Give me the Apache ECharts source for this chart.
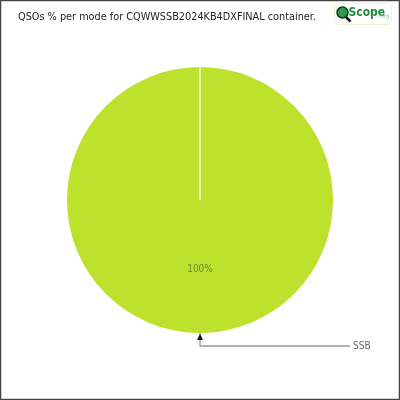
<!DOCTYPE html>
<html><head><meta charset="utf-8">
<script src="https://cdn.jsdelivr.net/npm/echarts@6/dist/echarts.min.js"></script>
<style>html,body{margin:0;padding:0;background:#fff}#c{width:400px;height:400px}</style>
</head><body><div id="c"></div>
<script>
const titleText = "QSOs % per mode for CQWWSSB2024KB4DXFINAL container.";
const modes = ["SSB"];
const percents = [100];

const CX = 200, CY = 200, R = 133;
const FONT = '"DejaVu Sans Condensed", Roboto, sans-serif';
const chart = echarts.init(document.getElementById('c'), null, {renderer: 'canvas'});
chart.setOption({
  animation: false,
  backgroundColor: '#fff',
  title: {
    text: titleText, left: 13, top: 7,
    textStyle: {fontFamily: FONT, fontSize: 10.8, fontWeight: 'normal', color: '#222'}
  },
  graphic: [
    {type: 'rect', shape: {x: 0.5, y: 0.5, width: 399, height: 399},
     style: {fill: 'none', stroke: '#444', lineWidth: 1.5}, silent: true, z: 100},
    {type: 'group', left: 334, top: 3, children: [
      {type: 'rect', shape: {x: 0, y: 0, width: 57, height: 21, r: 3},
       style: {fill: '#fff', stroke: '#eef3d8', lineWidth: 1}},
      {type: 'line', shape: {x1: 11, y1: 13, x2: 16, y2: 18}, style: {stroke: '#111', lineWidth: 2.5}},
      {type: 'circle', shape: {cx: 8, cy: 9, r: 5.5}, style: {fill: '#2e9a4a', stroke: '#0d3a1a', lineWidth: 1.5}},
      {type: 'text', style: {x: 14, y: 3, text: 'Scope', fontFamily: FONT, fontWeight: 'bold', fontSize: 12, fill: '#1f8a3a'}},
      {type: 'text', style: {x: 44, y: 10, text: '.org', fontFamily: FONT, fontSize: 6, fill: '#8fc88f'}}
    ]},
    {type: 'line', shape: {x1: CX, y1: CY, x2: CX, y2: CY - R}, style: {stroke: '#f4f8e0', lineWidth: 1.5}, z: 40},
    {type: 'polygon', shape: {points: [[CX, CY + R + 1], [CX - 3, CY + R + 7], [CX + 3, CY + R + 7]]},
     style: {fill: '#111'}, z: 50}
  ],
  series: [{
    type: 'pie',
    center: [CX, CY],
    radius: [0, R],
    startAngle: 90.02,
    clockwise: true,
    itemStyle: {color: '#bde22e', borderWidth: 0},
    label: {
      show: true, position: 'outside', formatter: '{b}',
      fontFamily: FONT, fontSize: 10, color: '#666', distanceToLabelLine: 3
    },
    labelLine: {show: true, length: 13, length2: 150, smooth: false,
      lineStyle: {color: '#999', width: 1.3}},
    data: modes.map((m, i) => ({name: m, value: percents[i]}))
  }, {
    type: 'pie',
    center: [CX, CY],
    radius: [0, R],
    startAngle: 90.02,
    silent: true,
    itemStyle: {color: 'transparent'},
    label: {show: true, position: 'inside', formatter: '{c}%',
      fontFamily: FONT, fontSize: 10, color: '#6f8a40'},
    labelLine: {show: false},
    data: modes.map((m, i) => ({name: m, value: percents[i]}))
  }]
});
</script></body></html>
